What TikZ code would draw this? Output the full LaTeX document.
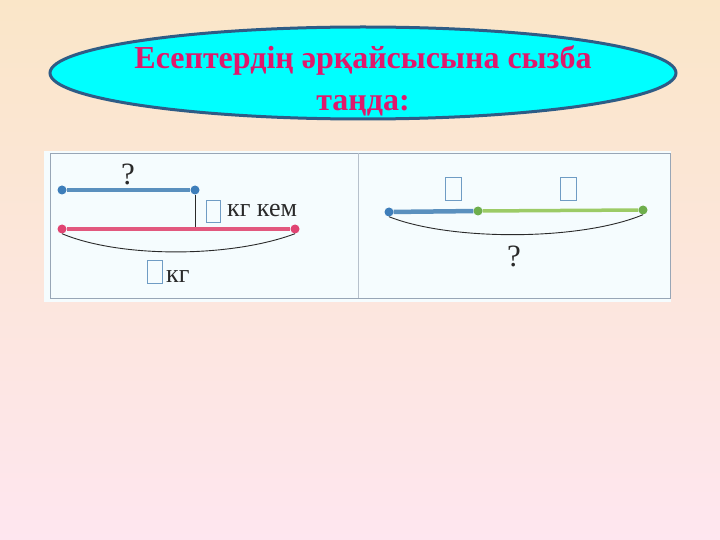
\documentclass[tikz,border=0pt]{standalone}
\usepackage{fontspec}
\setmainfont{Liberation Serif}
\usetikzlibrary{shapes.geometric}
\begin{document}
\begin{tikzpicture}[x=1pt,y=-1pt,
  seg/.style={line width=3.5pt},
  dot/.style={circle,inner sep=0pt,minimum size=9pt},
  numbox/.style={draw=boxblue,line width=0.9pt,inner sep=0pt,minimum width=14pt,minimum height=22pt},
  lbl/.style={text=inkgray,font=\fontsize{26}{28}\selectfont,inner sep=0pt},
  qmark/.style={text=inkgray,font=\fontsize{31}{32}\selectfont,inner sep=0pt},
  brace/.style={draw=inkgray,line width=0.9pt}]
\definecolor{bgtop}{HTML}{FAE6C8}
\definecolor{bgbot}{HTML}{FEE6EF}
\definecolor{titlefill}{HTML}{00FFFF}
\definecolor{titledraw}{HTML}{2E5C86}
\definecolor{titletext}{HTML}{E0186C}
\definecolor{segblue}{HTML}{5A90BE}
\definecolor{dotblue}{HTML}{3E7EBA}
\definecolor{segred}{HTML}{E2587E}
\definecolor{dotred}{HTML}{E04472}
\definecolor{seggreen}{HTML}{9CCB66}
\definecolor{dotgreen}{HTML}{6EAE4C}
\definecolor{boxblue}{HTML}{6F9CC4}
\definecolor{inkgray}{HTML}{2A2A2A}
\definecolor{frame}{HTML}{98A6B6}
\useasboundingbox (0,0) rectangle (720,540);
\shade[top color=bgtop,bottom color=bgbot] (0,0) rectangle (720,540);
% title
\node[ellipse,draw=titledraw,line width=3pt,fill=titlefill,minimum width=626pt,minimum height=92pt,inner sep=0pt] (title) at (363,73) {};
\node[text=titletext,font=\bfseries\fontsize{32}{42}\selectfont,align=center,inner sep=0pt] (titletxt) at (363,81) {Есептердің әрқайсысына сызба\\таңда:};
% panel
\fill[white!96!cyan] (44,151) rectangle (671,302);
\draw[frame,line width=0.8pt] (50,153) rectangle (670,298);
\draw[frame!70,line width=0.8pt] (358,153) -- (358,298);
% left diagram
\node[dot,fill=dotblue] (a1) at (62,190) {};
\node[dot,fill=dotblue] (a2) at (195,190) {};
\node[dot,fill=dotred] (b1) at (62,229) {};
\node[dot,fill=dotred] (b2) at (295,229) {};
\coordinate (bm) at (195,229);
\draw[inkgray,line width=0.9pt] (a2) -- (bm);
\draw[seg,segblue] (a1) -- (a2);
\draw[seg,segred] (b1) -- (b2);
\node[qmark] (q1) at (128,174) {?};
\node[numbox] (box1) at (213,211) {};
\node[lbl,anchor=base west] (kgkem) at (227,217) {кг кем};
\draw[brace] (b1.south) .. controls (120,258) and (230,258) .. (b2.south);
\node[numbox,minimum width=15pt,minimum height=23pt] (box2) at (154.5,271.5) {};
\node[lbl,anchor=base west] (kg) at (166,282) {кг};
% right diagram
\node[dot,fill=dotblue] (c1) at (389,212) {};
\node[dot,fill=dotgreen] (c2) at (478,211) {};
\node[dot,fill=dotgreen] (c3) at (643,210) {};
\draw[line width=4.5pt,segblue] (c1) -- (c2);
\draw[seg,seggreen] (c2) -- (c3);
\node[numbox,minimum width=16pt,minimum height=23pt] (box3) at (453,188.5) {};
\node[numbox,minimum width=16pt,minimum height=23pt] (box4) at (568,188.5) {};
\draw[brace] (c1.south) .. controls (450,241) and (580,241) .. (c3.south);
\node[qmark] (q2) at (514,256) {?};
\end{tikzpicture}
\end{document}
